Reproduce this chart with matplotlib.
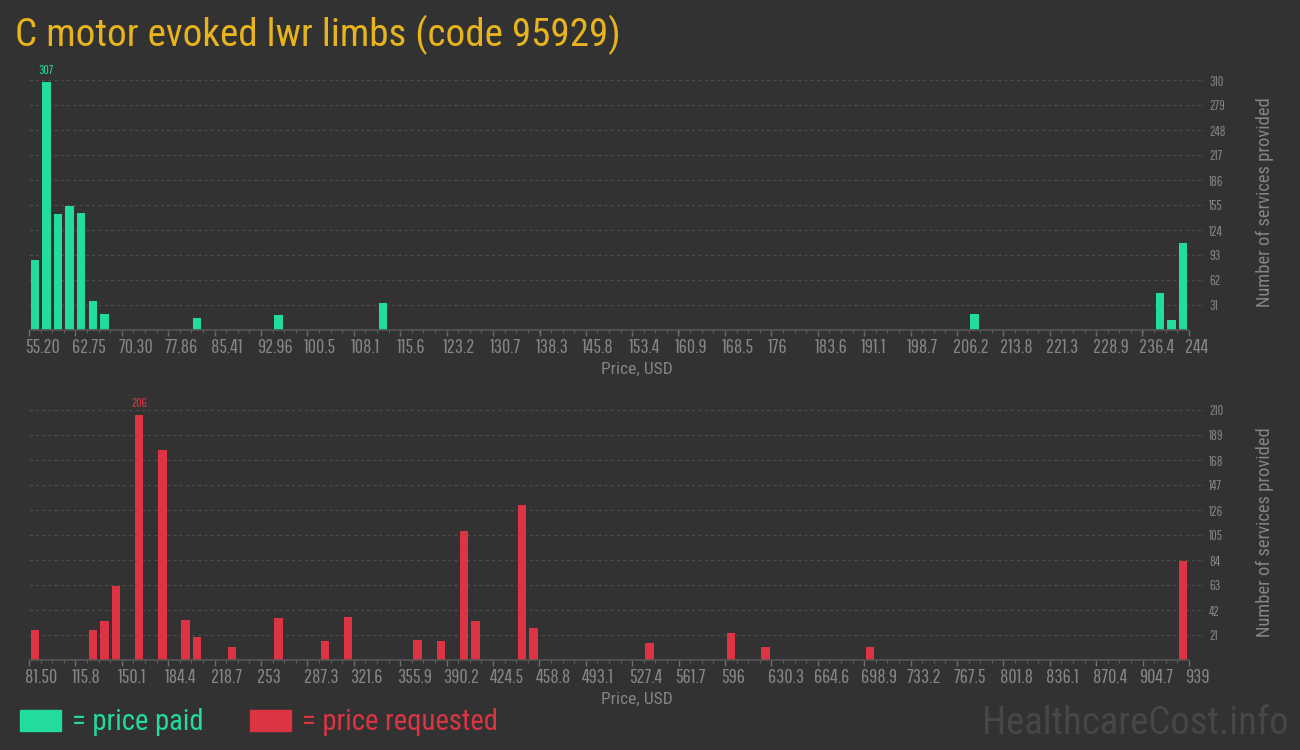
import matplotlib
matplotlib.use("Agg")
import numpy as np
import matplotlib.pyplot as plt
from matplotlib.patches import Rectangle
from matplotlib.transforms import ScaledTranslation

# price paid histogram (100 bins between first and last tick)
paid_ticks = ["55.20", "62.75", "70.30", "77.86", "85.41", "92.96", "100.5", "108.1", "115.6",
              "123.2", "130.7", "138.3", "145.8", "153.4", "160.9", "168.5", "176", "183.6",
              "191.1", "198.7", "206.2", "213.8", "221.3", "228.9", "236.4", "244"]
paid_bins = [0, 1, 2, 3, 4, 5, 6, 14, 21, 30, 81, 97, 98, 99]
paid_counts = [87, 307, 144, 154, 145, 36, 20, 15, 19, 33, 20, 46, 13, 108]
paid_yticks = [31, 62, 93, 124, 155, 186, 217, 248, 279, 310]

# price requested histogram
req_ticks = ["81.50", "115.8", "150.1", "184.4", "218.7", "253", "287.3", "321.6", "355.9",
             "390.2", "424.5", "458.8", "493.1", "527.4", "561.7", "596", "630.3", "664.6",
             "698.9", "733.2", "767.5", "801.8", "836.1", "870.4", "904.7", "939"]
req_bins = [0, 5, 6, 7, 9, 11, 13, 14, 17, 21, 25, 27, 33, 35, 37, 38, 42, 43, 53, 60, 63, 72, 99]
req_counts = [25, 25, 33, 62, 206, 176, 34, 19, 11, 35, 16, 36, 17, 16, 108, 33, 130, 27,
              14, 23, 11, 11, 83]
req_yticks = [21, 42, 63, 84, 105, 126, 147, 168, 189, 210]

n_bins = 100

BG = "#323232"
GREEN = "#22dc9b"
RED = "#dd3444"
GOLD = "#e8b41e"
GRAY = "#858585"
GRID = "#4c4c4c"

TICKFONT = "Pathway Gothic One"
LABFONT = "Roboto Condensed"

W, H = 1300, 750
fig = plt.figure(figsize=(13, 7.5), dpi=100, facecolor=BG)


def px_axes(left, top, right, bottom):
    return fig.add_axes([left / W, 1 - bottom / H, (right - left) / W, (bottom - top) / H])


def draw_hist(ax, ticks, bins, counts, yticks, color):
    x0 = float(ticks[0])
    x1 = float(ticks[-1])
    bw = (x1 - x0) / n_bins
    ext = (x1 - x0) * 16 / 1160
    ax.set_facecolor(BG)
    centers = [x0 + (b + 0.5) * bw for b in bins]
    ax.bar(centers, counts, width=bw * 0.74, color=color, zorder=3)
    # label on the tallest bar
    i = int(np.argmax(counts))
    ax.annotate(str(counts[i]), (centers[i], counts[i]), xytext=(0, 4.5), textcoords="offset points",
                ha="center", va="bottom", color=color, fontsize=9.5, family=TICKFONT,
                annotation_clip=False)
    ax.set_xlim(x0, x1 + ext)
    ax.set_ylim(0, yticks[-1])
    for s in ax.spines.values():
        s.set_visible(False)
    ax.hlines(0, x0, x1, color="#555555", lw=1.2, zorder=4, clip_on=False)

    ax.set_xticks([float(t) for t in ticks])
    ax.set_xticklabels(ticks, ha="left")
    ax.set_xticks([x0 + k * bw for k in range(n_bins + 1)], minor=True)
    ax.tick_params(axis="x", which="major", length=4.5, width=1, color="#6e6e6e", pad=1,
                   labelsize=14.5, labelcolor=GRAY)
    ax.tick_params(axis="x", which="minor", length=2.2, width=0.8, color="#5e5e5e")
    off = ScaledTranslation(-3.5 / 100, 0, fig.dpi_scale_trans)
    for lab in ax.get_xticklabels():
        lab.set_family(TICKFONT)
        lab.set_transform(lab.get_transform() + off)

    ax.yaxis.tick_right()
    ax.set_yticks(yticks)
    ax.tick_params(axis="y", length=0, pad=3, labelsize=10, labelcolor=GRAY)
    for lab in ax.get_yticklabels():
        lab.set_family(TICKFONT)
    ax.yaxis.grid(True, color=GRID, lw=0.9, linestyle=(0, (2.5, 2.5)), zorder=0)
    ax.set_axisbelow(True)

    ax.set_xlabel("Price, USD", family=LABFONT, fontsize=12.6, color=GRAY, va="center")
    ax.xaxis.set_label_coords((637 - 29) / 1176, -0.156)
    ax.yaxis.set_label_position("right")
    ax.set_ylabel("Number of services provided", family=LABFONT, fontsize=13.3, color=GRAY,
                  rotation=90, va="center")
    ax.yaxis.set_label_coords((1265 - 29) / 1176, 0.51)


ax1 = px_axes(29, 80, 1205, 330)
draw_hist(ax1, paid_ticks, paid_bins, paid_counts, paid_yticks, GREEN)

ax2 = px_axes(29, 410, 1205, 660)
draw_hist(ax2, req_ticks, req_bins, req_counts, req_yticks, RED)

fig.text(15 / W, 1 - 46 / H, "C motor evoked lwr limbs (code 95929)", family=LABFONT,
         fontsize=28.2, color=GOLD, va="baseline", ha="left")

# legend
fig.patches.append(Rectangle((20 / W, 1 - 731 / H), 41 / W, 21 / H, transform=fig.transFigure,
                             color=GREEN))
fig.text(72 / W, 1 - 730 / H, "= price paid", family=LABFONT, fontsize=20.6, color=GREEN,
         va="baseline")
fig.patches.append(Rectangle((250 / W, 1 - 731 / H), 41 / W, 21 / H, transform=fig.transFigure,
                             color=RED))
fig.text(302 / W, 1 - 730 / H, "= price requested", family=LABFONT, fontsize=20.6, color=RED,
         va="baseline")

fig.text(982 / W, 1 - 734 / H, "HealthcareCost.info", family=LABFONT, fontsize=28,
         color="#474747", va="baseline")

fig.savefig("out.png", facecolor=BG)
